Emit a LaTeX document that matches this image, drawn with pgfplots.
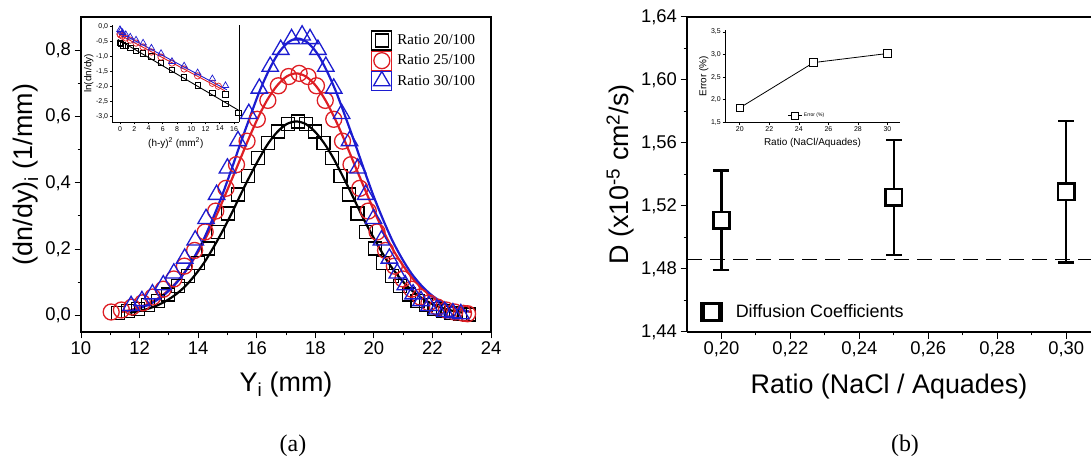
\documentclass[border=0pt]{standalone}
\usepackage{fontspec}
\setmainfont{Liberation Sans}
\newfontfamily\seriffont{Liberation Serif}
\usepackage{pgfplots}
\pgfplotsset{compat=1.18}
\definecolor{mred}{RGB}{222,30,36}
\definecolor{mblue}{RGB}{28,28,208}
\newcommand{\fs}[1]{\fontsize{#1}{#1}\selectfont}

\pgfplotsset{
  mainax/.style={
    scale only axis, anchor=south west,
    axis line style={line width=1.2bp},
    tick align=outside,
    major tick length=6.5bp, minor tick length=3.5bp,
    every tick/.append style={black, line width=1bp},
    tick label style={font=\fs{18.5}},
    label style={font=\fs{27}},
    xlabel style={yshift=-10bp},
    /pgf/number format/assume math mode=true,
    /pgf/number format/use comma,
  },
  insetax/.style={
    scale only axis, anchor=south west,
    axis line style={line width=0.8bp},
    tick align=outside,
    major tick length=2.5bp, minor tick length=1.5bp,
    every tick/.append style={black, line width=0.6bp},
    tick label style={font=\fs{7}, inner sep=1.5bp},
    label style={font=\fs{10}, inner sep=1bp},
    xlabel style={yshift=-4bp},
    /pgf/number format/assume math mode=true,
    /pgf/number format/use comma,
  },
}

\begin{document}
\begin{tikzpicture}
\path[use as bounding box] (0,0) rectangle (1091bp,466bp);

% ---------- (a) main ----------
\begin{axis}[mainax, at={(81bp,134bp)}, width=410bp, height=315bp,
  xmin=10, xmax=24, ymin=-0.05, ymax=0.9,
  tick pos=left,
  xtick={10,12,...,24}, minor x tick num=1,
  ytick={0,0.2,0.4,0.6,0.8}, minor y tick num=1,
  yticklabel style={/pgf/number format/.cd, fixed, fixed zerofill, precision=1},
  xlabel={Y\textsubscript{i} (mm)},
  ylabel={(dn/dy)\textsubscript{i} (1/mm)},
  legend style={at={(0.70,0.965)}, anchor=north west, draw=none, fill=none,
    font=\seriffont\fs{15}, row sep=0pt, column sep=4bp,
    nodes={inner sep=1bp}},
  legend cell align=left,
  legend image code/.code={\path (-10bp,-9.5bp) rectangle (10bp,9.5bp);
    \draw[#1] plot coordinates {(0bp,0bp)};},
]
\addplot[only marks, mark=square, mark size=6.5bp, black, line width=1.3bp] coordinates {
(11.27,0.0083)(11.61,0.0131)(11.95,0.0202)(12.29,0.0304)(12.63,0.0445)(12.97,0.0634)(13.31,0.0881)(13.65,0.1192)(14.00,0.1571)(14.34,0.2017)(14.68,0.2522)(15.02,0.3072)(15.36,0.3644)(15.70,0.4211)(16.04,0.4740)(16.38,0.5197)(16.72,0.5550)(17.06,0.5774)(17.40,0.5850)
(17.69,0.5774)(17.98,0.5550)(18.28,0.5197)(18.57,0.4740)(18.86,0.4211)(19.15,0.3644)(19.44,0.3072)(19.74,0.2522)(20.03,0.2017)(20.32,0.1571)(20.61,0.1192)(20.90,0.0881)(21.20,0.0634)(21.49,0.0445)(21.78,0.0304)(22.07,0.0202)(22.36,0.0131)(22.65,0.0083)(22.95,0.0051)(23.24,0.0030)};
\addlegendentry{Ratio 20/100}
\addplot[only marks, mark=o, mark size=8bp, mred, line width=1.3bp] coordinates {
(11.03,0.0103)(11.38,0.0163)(11.74,0.0252)(12.10,0.0379)(12.45,0.0555)(12.81,0.0791)(13.17,0.1099)(13.53,0.1487)(13.88,0.1960)(14.24,0.2517)(14.60,0.3147)(14.95,0.3833)(15.31,0.4547)(15.67,0.5255)(16.02,0.5915)(16.38,0.6485)(16.74,0.6926)(17.09,0.7205)(17.45,0.7300)
(17.75,0.7205)(18.04,0.6926)(18.34,0.6485)(18.63,0.5915)(18.93,0.5255)(19.22,0.4547)(19.52,0.3833)(19.81,0.3147)(20.11,0.2517)(20.40,0.1960)(20.70,0.1487)(20.99,0.1099)(21.29,0.0791)(21.58,0.0555)(21.88,0.0379)(22.17,0.0252)(22.47,0.0163)(22.76,0.0103)(23.06,0.0063)(23.20,0.0050)};
\addlegendentry{Ratio 25/100}
\addplot[only marks, mark=triangle, mark size=9.5bp, mblue, line width=1.3bp] coordinates {
(11.71,0.0292)(12.08,0.0439)(12.44,0.0642)(12.81,0.0916)(13.17,0.1272)(13.54,0.1721)(13.90,0.2269)(14.27,0.2913)(14.63,0.3643)(15.00,0.4437)(15.36,0.5264)(15.73,0.6083)(16.09,0.6847)(16.46,0.7507)(16.82,0.8017)(17.19,0.8340)(17.55,0.8450)
(17.82,0.8340)(18.09,0.8017)(18.36,0.7507)(18.63,0.6847)(18.90,0.6083)(19.17,0.5264)(19.45,0.4437)(19.72,0.3643)(19.99,0.2913)(20.26,0.2269)(20.53,0.1721)(20.80,0.1272)(21.07,0.0916)(21.34,0.0642)(21.61,0.0439)(21.88,0.0292)(22.15,0.0189)(22.42,0.0119)(22.70,0.0073)(22.97,0.0044)};
\addlegendentry{Ratio 30/100}
% fits
\addplot[forget plot, smooth, no marks, black, line width=2.2bp] coordinates {
(11.66,0.0083)(11.98,0.0131)(12.29,0.0202)(12.61,0.0304)(12.92,0.0445)(13.24,0.0634)(13.56,0.0881)(13.87,0.1192)(14.19,0.1571)(14.50,0.2017)(14.82,0.2522)(15.14,0.3072)(15.45,0.3644)(15.77,0.4211)(16.09,0.4740)(16.40,0.5197)(16.72,0.5550)(17.03,0.5774)(17.35,0.5850)
(17.67,0.5774)(17.98,0.5550)(18.30,0.5197)(18.62,0.4740)(18.93,0.4211)(19.25,0.3644)(19.56,0.3072)(19.88,0.2522)(20.20,0.2017)(20.51,0.1571)(20.83,0.1192)(21.14,0.0881)(21.46,0.0634)(21.78,0.0445)(22.09,0.0304)(22.41,0.0202)(22.73,0.0131)(23.04,0.0083)};
\addplot[forget plot, smooth, no marks, mred, line width=2.2bp] coordinates {
(11.37,0.0103)(11.70,0.0163)(12.03,0.0252)(12.36,0.0379)(12.70,0.0555)(13.03,0.0791)(13.36,0.1099)(13.69,0.1487)(14.03,0.1960)(14.36,0.2517)(14.69,0.3147)(15.02,0.3833)(15.36,0.4547)(15.69,0.5255)(16.02,0.5915)(16.35,0.6485)(16.69,0.6926)(17.02,0.7205)(17.35,0.7300)
(17.68,0.7205)(18.02,0.6926)(18.35,0.6485)(18.68,0.5915)(19.01,0.5255)(19.34,0.4547)(19.68,0.3833)(20.01,0.3147)(20.34,0.2517)(20.67,0.1960)(21.01,0.1487)(21.34,0.1099)(21.67,0.0791)(22.00,0.0555)(22.34,0.0379)(22.67,0.0252)(23.00,0.0163)(23.33,0.0103)};
\addplot[forget plot, smooth, no marks, mblue, line width=2.2bp] coordinates {
(11.56,0.0118)(11.89,0.0187)(12.21,0.0288)(12.54,0.0433)(12.86,0.0635)(13.18,0.0905)(13.51,0.1257)(13.83,0.1701)(14.16,0.2242)(14.48,0.2878)(14.81,0.3599)(15.13,0.4384)(15.45,0.5201)(15.78,0.6011)(16.10,0.6766)(16.43,0.7418)(16.75,0.7922)(17.08,0.8241)(17.40,0.8350)
(17.72,0.8241)(18.05,0.7922)(18.37,0.7418)(18.70,0.6766)(19.02,0.6011)(19.35,0.5201)(19.67,0.4384)(19.99,0.3599)(20.32,0.2878)(20.64,0.2242)(20.97,0.1701)(21.29,0.1257)(21.62,0.0905)(21.94,0.0635)(22.26,0.0433)(22.59,0.0288)(22.91,0.0187)(23.24,0.0118)};
\end{axis}

% ---------- (a) inset ----------
\begin{axis}[insetax, at={(112.3bp,344bp)}, width=127bp, height=97bp,
  xmin=-1.08, xmax=16.74, ymin=-3.2, ymax=0.057,
  axis x line*=bottom, axis y line*=box, ytick pos=left,
  xtick={0,2,...,16}, ytick={0,-0.5,-1,-1.5,-2,-2.5,-3},
  yticklabel style={/pgf/number format/.cd, fixed, fixed zerofill, precision=1},
  xlabel={(h-y)\textsuperscript{2} (mm\textsuperscript{2})},
  ylabel={ln(dn/dy)},
]
\addplot[only marks, mark=square, mark size=2.7bp, black, line width=0.7bp] coordinates {
(0,-0.55)(0.09,-0.58)(0.36,-0.62)(0.81,-0.65)(1.44,-0.72)(2.25,-0.82)(3.24,-0.9)(4.41,-1.0)(5.76,-1.22)(7.29,-1.45)(9.0,-1.7)(10.89,-1.97)(12.96,-2.22)(14.8,-2.27)(14.8,-2.6)(16.6,-2.9)};
\addplot[only marks, mark=o, mark size=3.2bp, mred, line width=0.7bp] coordinates {
(0,-0.25)(0.09,-0.28)(0.36,-0.32)(0.81,-0.38)(1.44,-0.45)(2.25,-0.55)(3.24,-0.68)(4.41,-0.85)(5.76,-1.02)(7.29,-1.22)(9.0,-1.42)(10.89,-1.65)(12.96,-1.9)(13.8,-2.0)};
\addplot[only marks, mark=triangle, mark size=3.8bp, mblue, line width=0.7bp] coordinates {
(0,-0.1)(0.09,-0.15)(0.36,-0.2)(0.81,-0.27)(1.44,-0.35)(2.25,-0.45)(3.24,-0.55)(4.41,-0.72)(5.76,-0.9)(7.29,-1.17)(9.0,-1.32)(10.89,-1.55)(12.96,-1.75)(14.8,-1.98)};
\addplot[no marks, black, line width=0.9bp] coordinates {(-0.3,-0.43)(16.74,-2.82)};
\addplot[no marks, mred, line width=0.9bp] coordinates {(0,-0.28)(14.7,-2.15)};
\addplot[no marks, mblue, line width=0.9bp] coordinates {(0,-0.2)(15.0,-2.12)};
\end{axis}

% ---------- (b) main ----------
\begin{axis}[mainax, at={(687bp,134bp)}, width=404bp, height=315bp,
  xmin=0.19, xmax=0.3072, ymin=1.44, ymax=1.64,
  axis x line*=box, axis y line*=left, xtick pos=left, ytick pos=left,
  xtick={0.20,0.22,...,0.30}, minor x tick num=1,
  ytick={1.44,1.48,...,1.64}, minor y tick num=1,
  xticklabel style={/pgf/number format/.cd, fixed, fixed zerofill, precision=2},
  yticklabel style={/pgf/number format/.cd, fixed, fixed zerofill, precision=2},
  xlabel={Ratio (NaCl / Aquades)},
  ylabel={D (x10\textsuperscript{-5} cm\textsuperscript{2}/s)},
  legend style={at={(0.025,0.063)}, anchor=west, draw=none, fill=none,
    font=\fs{18}, column sep=12bp, nodes={inner sep=1bp}},
  legend image code/.code={\path (-10bp,-9bp) rectangle (10bp,9bp);
    \draw[#1] plot coordinates {(0bp,0bp)};},
]
\addplot[forget plot, no marks, black, line width=1.6bp, dash pattern=on 15bp off 8bp]
  coordinates {(0.19,1.486)(0.3072,1.486)};
\addplot[only marks, mark=square*, mark size=8.2bp, black, line width=2.5bp,
  mark options={fill=white},
  error bars/.cd, y dir=both, y explicit,
  error bar style={line width=2.5bp},
  error mark options={rotate=90, mark size=8bp, line width=2.5bp}]
  coordinates {
  (0.20,1.511) +- (0,0.0315)
  (0.25,1.5255) +- (0,0.0365)
  (0.30,1.529) +- (0,0.045)};
\addlegendentry{Diffusion Coefficients}
\end{axis}

% ---------- (b) inset ----------
\begin{axis}[insetax, at={(725bp,343.7bp)}, width=175bp, height=92.3bp,
  xmin=19, xmax=30.85, ymin=1.5, ymax=3.54,
  axis x line*=bottom, axis y line*=left,
  xtick={20,22,...,30}, ytick={1.5,2,2.5,3,3.5},
  yticklabel style={/pgf/number format/.cd, fixed, fixed zerofill, precision=1},
  xlabel={Ratio (NaCl/Aquades)},
  ylabel={Error (\%)},
  legend style={at={(0.34,0.07)}, anchor=west, draw=none, fill=none,
    font=\fs{5}, column sep=1bp, nodes={inner sep=0.5bp}},
  legend image code/.code={\draw[#1, mark repeat=2, mark phase=2]
    plot coordinates {(0bp,0bp)(7bp,0bp)(14bp,0bp)};},
]
\addplot[mark=square*, mark size=3.8bp, black, line width=0.8bp, mark options={fill=white}]
  coordinates {(20,1.82)(25,2.82)(30,3.02)};
\addlegendentry{Error (\%)}
\end{axis}

\node[font=\seriffont\fs{24}] at (293bp,20bp) {(a)};
\node[font=\seriffont\fs{24}] at (905bp,20bp) {(b)};
\end{tikzpicture}
\end{document}
